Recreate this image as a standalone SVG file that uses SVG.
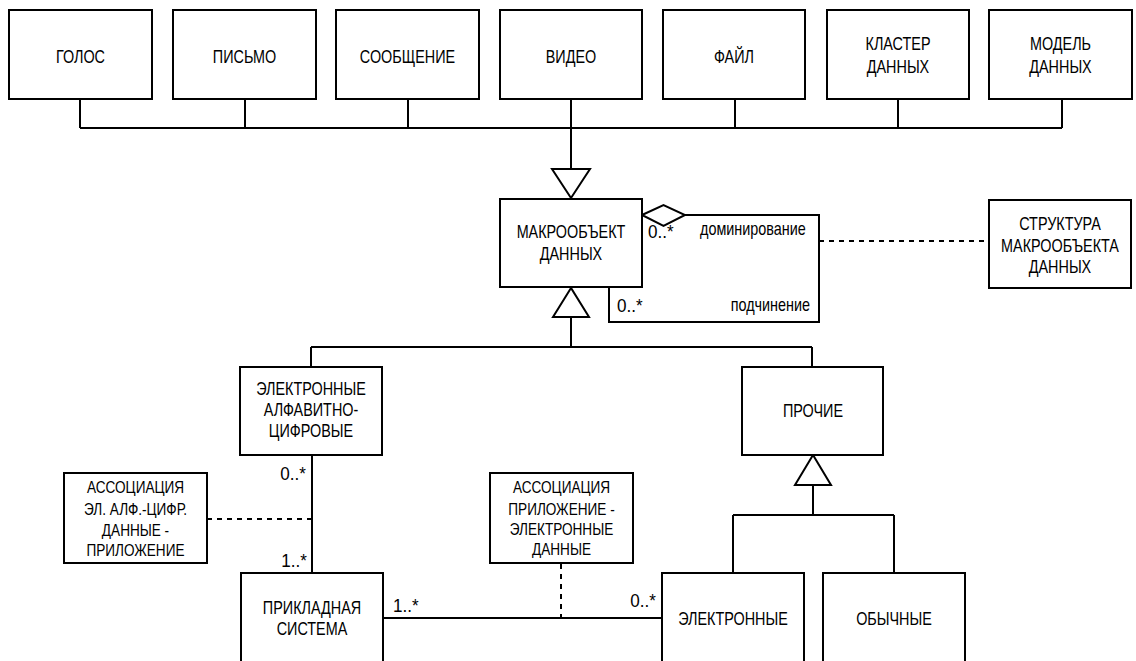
<svg xmlns="http://www.w3.org/2000/svg" width="1136" height="661" viewBox="0 0 1136 661">
<style>
  .box { fill: #fff; stroke: #000; stroke-width: 2; }
  .ln { fill: none; stroke: #000; stroke-width: 2; }
  .dash { fill: none; stroke: #000; stroke-width: 2; stroke-dasharray: 5 5; }
  .tri { fill: #fff; stroke: #000; stroke-width: 2; stroke-linejoin: miter; }
  text { font-family: "Liberation Sans", Arial, sans-serif; font-size: 18px; fill: #000; text-anchor: middle; }
  .sm { font-size: 17px; }
  .l { text-anchor: start; }
  .r { text-anchor: end; }
</style>
<rect width="1136" height="661" fill="#fff"/>
<g id="connectors">
  <path class="ln" d="M80 99V128M245 99V128M408 99V128M571 99V128M735 99V128M898 99V128M1062 99V128M80 128H1062M571 128V169"/>
  <polygon class="tri" points="552,169 590,169 571,198"/>
  <path class="ln" d="M685 215H819V322H609V287"/>
  <polygon class="tri" points="642,215 663.5,205 685,215 663.5,226"/>
  <path class="dash" d="M819 241H989"/>
  <polygon class="tri" points="571,288 553,317 589,317"/>
  <path class="ln" d="M571 317V347M311 347H812M311 347V367M812 347V367"/>
  <path class="ln" d="M312 455V573"/>
  <path class="dash" d="M207 519H312"/>
  <polygon class="tri" points="813,455 795,485 831,485"/>
  <path class="ln" d="M813 485V515M733 515H894M733 515V573M894 515V573"/>
  <path class="ln" d="M383 618H662"/>
  <path class="dash" d="M561 564V618" stroke-dasharray="4 5"/>
  <text class="l" transform="translate(648 238) scale(0.95 1)">0..*</text>
  <text class="l" transform="translate(700 235) scale(0.8 1)">доминирование</text>
  <text class="l" transform="translate(617 312) scale(0.95 1)">0..*</text>
  <text class="r" transform="translate(810 311) scale(0.8 1)">подчинение</text>
  <text class="r" transform="translate(306 480) scale(0.95 1)">0..*</text>
  <text class="r" transform="translate(307 567) scale(0.95 1)">1..*</text>
  <text class="l" transform="translate(393 612) scale(0.95 1)">1..*</text>
  <text class="r" transform="translate(656 607) scale(0.95 1)">0..*</text>
</g>
<g id="golos"><rect class="box" x="9" y="10" width="143" height="89"/><text transform="translate(80.5 63) scale(0.8 1)">ГОЛОС</text></g>
<g id="pismo"><rect class="box" x="173" y="10" width="143" height="89"/><text transform="translate(244.5 63) scale(0.8 1)">ПИСЬМО</text></g>
<g id="soobshchenie"><rect class="box" x="336" y="10" width="143" height="89"/><text transform="translate(407.5 63) scale(0.8 1)">СООБЩЕНИЕ</text></g>
<g id="video"><rect class="box" x="500" y="10" width="142" height="89"/><text transform="translate(571 63) scale(0.8 1)">ВИДЕО</text></g>
<g id="fail"><rect class="box" x="663" y="10" width="142" height="89"/><text transform="translate(734 63) scale(0.8 1)">ФАЙЛ</text></g>
<g id="klaster"><rect class="box" x="827" y="10" width="142" height="89"/><text transform="translate(898 50) scale(0.8 1)">КЛАСТЕР</text><text transform="translate(898 73) scale(0.8 1)">ДАННЫХ</text></g>
<g id="model"><rect class="box" x="989" y="10" width="143" height="89"/><text transform="translate(1060.5 50) scale(0.8 1)">МОДЕЛЬ</text><text transform="translate(1060.5 73) scale(0.8 1)">ДАННЫХ</text></g>
<g id="makroobekt"><rect class="box" x="500" y="199" width="142" height="88"/><text transform="translate(571 238) scale(0.8 1)">МАКРООБЪЕКТ</text><text transform="translate(571 260) scale(0.8 1)">ДАННЫХ</text></g>
<g id="struktura"><rect class="box" x="989" y="200" width="142" height="88"/><text transform="translate(1060 230) scale(0.8 1)">СТРУКТУРА</text><text transform="translate(1060 252) scale(0.8 1)">МАКРООБЪЕКТА</text><text transform="translate(1060 273) scale(0.8 1)">ДАННЫХ</text></g>
<g id="el-alfa"><rect class="box" x="240" y="367" width="142" height="88"/><text transform="translate(311 395) scale(0.8 1)">ЭЛЕКТРОННЫЕ</text><text transform="translate(311 416) scale(0.8 1)">АЛФАВИТНО-</text><text transform="translate(311 437) scale(0.8 1)">ЦИФРОВЫЕ</text></g>
<g id="prochie"><rect class="box" x="742" y="367" width="141" height="88"/><text transform="translate(813 417) scale(0.8 1)">ПРОЧИЕ</text></g>
<g id="assoc1"><rect class="box" x="64" y="473" width="143" height="90"/><text class="sm" transform="translate(135.5 493) scale(0.8 1)">АССОЦИАЦИЯ</text><text class="sm" transform="translate(135.5 515) scale(0.8 1)">ЭЛ. АЛФ.-ЦИФР.</text><text class="sm" transform="translate(135.5 536) scale(0.8 1)">ДАННЫЕ -</text><text class="sm" transform="translate(135.5 556) scale(0.8 1)">ПРИЛОЖЕНИЕ</text></g>
<g id="assoc2"><rect class="box" x="490" y="473" width="143" height="90"/><text class="sm" transform="translate(561.5 493) scale(0.8 1)">АССОЦИАЦИЯ</text><text class="sm" transform="translate(561.5 515) scale(0.8 1)">ПРИЛОЖЕНИЕ -</text><text class="sm" transform="translate(561.5 535) scale(0.8 1)">ЭЛЕКТРОННЫЕ</text><text class="sm" transform="translate(561.5 555) scale(0.8 1)">ДАННЫЕ</text></g>
<g id="prikladnaya"><rect class="box" x="241" y="573" width="142" height="120"/><text transform="translate(312 614) scale(0.8 1)">ПРИКЛАДНАЯ</text><text transform="translate(312 635) scale(0.8 1)">СИСТЕМА</text></g>
<g id="elektronnye"><rect class="box" x="662" y="573" width="142" height="120"/><text transform="translate(733 625) scale(0.8 1)">ЭЛЕКТРОННЫЕ</text></g>
<g id="obychnye"><rect class="box" x="823" y="573" width="142" height="120"/><text transform="translate(894 625) scale(0.8 1)">ОБЫЧНЫЕ</text></g>
</svg>
